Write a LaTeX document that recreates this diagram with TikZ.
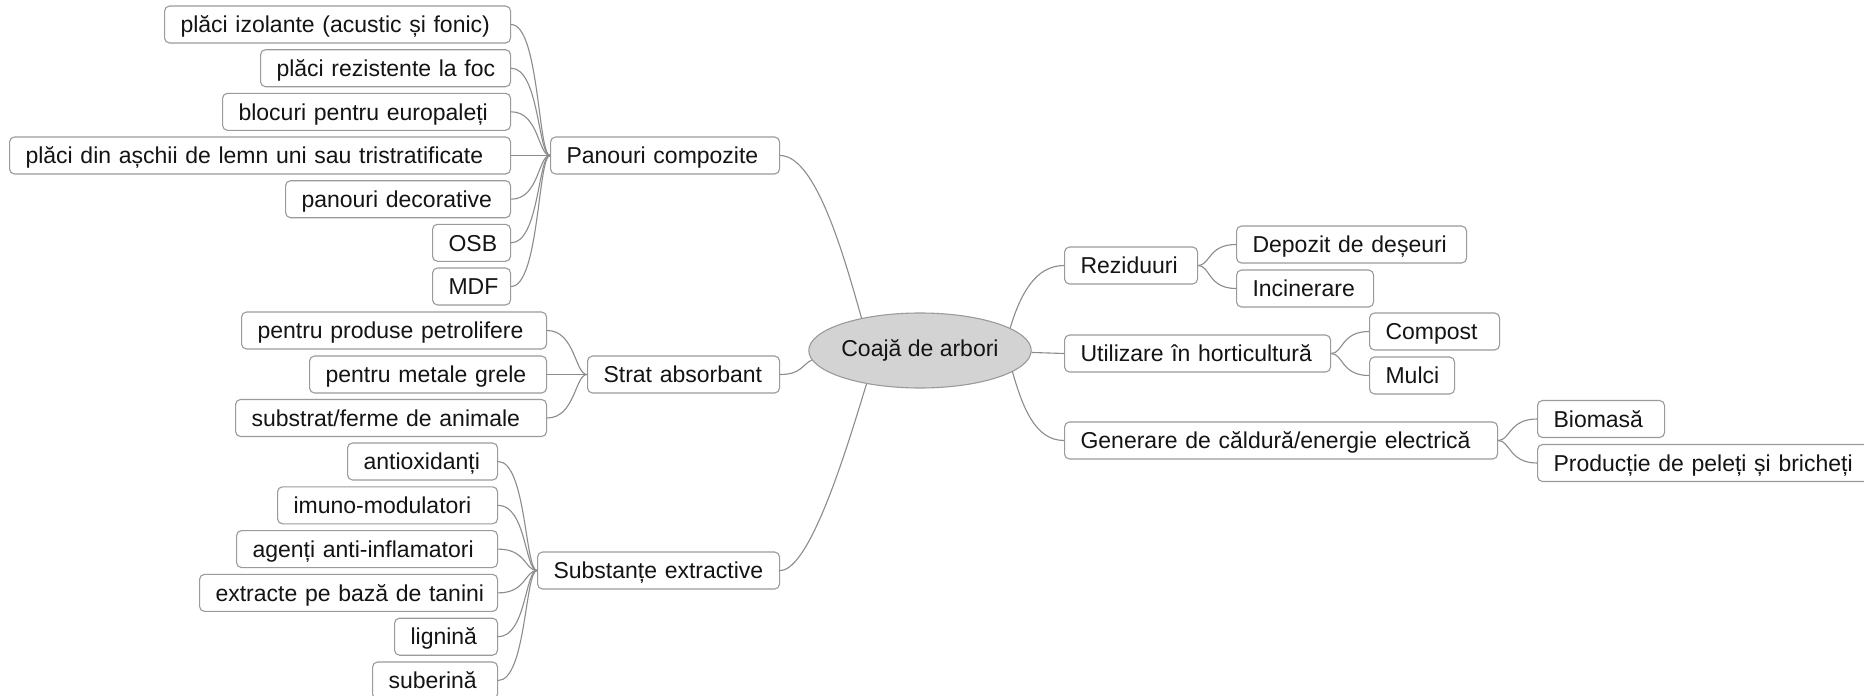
\documentclass[tikz,border=0pt]{standalone}
\usepackage{fontspec}
\setmainfont{Liberation Sans}
\usetikzlibrary{shapes.geometric}
\definecolor{boxgray}{HTML}{9A9A9A}
\definecolor{linegray}{HTML}{8C8C8C}
\definecolor{rootfill}{HTML}{D3D3D3}
\definecolor{txt}{HTML}{141414}
\begin{document}
\begin{tikzpicture}[x=1pt,y=-1pt,
  box/.style={draw=boxgray, line width=1.1pt, rounded corners=5pt, fill=white,
    anchor=west, inner xsep=16pt, inner ysep=0pt, minimum height=37pt,
    text height=16.5pt, text depth=0pt, align=left,
    font=\fontsize{23}{27}\selectfont, text=txt},
  rootnode/.style={ellipse, draw=boxgray, fill=rootfill, line width=1.1pt,
    minimum width=204pt, minimum height=75pt, inner sep=0pt,
    font=\fontsize{23}{27}\selectfont, text=txt},
  conn/.style={draw=linegray, line width=1.1pt}]
\useasboundingbox (0,0) rectangle (1864,696);
\fill[white] (0,0) rectangle (1864,696);

% root
\node[rootnode] (root) at (920,350.5) {Coajă de arbori};

% Panouri compozite group
\node[box, text width=197pt] (pc) at (550,155.5) {\mbox{Panouri compozite}};
\node[box, text width=314pt] (izol) at (164,24.5) {\mbox{plăci izolante (acustic și fonic)}};
\node[box, text width=218pt] (rfoc) at (260,68.2) {\mbox{plăci rezistente la foc}};
\node[box, text width=256pt] (bloc) at (222,111.8) {\mbox{blocuri pentru europaleți}};
\node[box, text width=469pt] (aschii) at (9,155.5) {\mbox{plăci din așchii de lemn uni sau tristratificate}};
\node[box, text width=193pt] (decor) at (285,199.2) {\mbox{panouri decorative}};
\node[box, text width=46pt] (osb) at (432,242.8) {\mbox{OSB}};
\node[box, text width=46pt] (mdf) at (432,286.5) {\mbox{MDF}};

% Strat absorbant group
\node[box, text width=160pt] (sa) at (587,374.5) {\mbox{Strat absorbant}};
\node[box, text width=273pt] (petro) at (241,330.5) {\mbox{pentru produse petrolifere}};
\node[box, text width=205pt] (metale) at (309,374.5) {\mbox{pentru metale grele}};
\node[box, text width=279pt] (substr) at (235,418) {\mbox{substrat/ferme de animale}};

% Substante extractive group
\node[box, text width=210pt] (se) at (537,570.5) {\mbox{Substanțe extractive}};
\node[box, text width=118pt] (antiox) at (347,461.5) {\mbox{antioxidanți}};
\node[box, text width=188pt] (imuno) at (277,505.3) {\mbox{imuno-modulatori}};
\node[box, text width=229pt] (agenti) at (236,549.1) {\mbox{agenți anti-inflamatori}};
\node[box, text width=266pt] (extr) at (199,592.9) {\mbox{extracte pe bază de tanini}};
\node[box, text width=71pt] (lign) at (394,636.7) {\mbox{lignină}};
\node[box, text width=93pt] (suber) at (372,680.5) {\mbox{suberină}};

% right side
\node[box, text width=101pt] (rez) at (1064,265.5) {\mbox{Reziduuri}};
\node[box, text width=198pt] (dep) at (1236,244.5) {\mbox{Depozit de deșeuri}};
\node[box, text width=105pt] (inc) at (1236,288.5) {\mbox{Incinerare}};
\node[box, text width=234pt] (util) at (1064,353.5) {\mbox{Utilizare în horticultură}};
\node[box, text width=98pt] (comp) at (1369,331.5) {\mbox{Compost}};
\node[box, text width=53pt] (mulci) at (1369,375.5) {\mbox{Mulci}};
\node[box, text width=401pt] (gen) at (1064,440.5) {\mbox{Generare de căldură/energie electrică}};
\node[box, text width=95pt] (bio) at (1537,419) {\mbox{Biomasă}};
\node[box, text width=301pt] (prod) at (1537,463) {\mbox{Producție de peleți și bricheți}};

% connectors: left leaves
\foreach \c in {izol,rfoc,bloc,aschii,decor,osb,mdf}
  \draw[conn] (\c.east) .. controls +(28,0) and +(-12,0) .. (pc.west);
\foreach \c in {petro,metale,substr}
  \draw[conn] (\c.east) .. controls +(28,0) and +(-12,0) .. (sa.west);
\foreach \c in {antiox,imuno,agenti,extr,lign,suber}
  \draw[conn] (\c.east) .. controls +(28,0) and +(-12,0) .. (se.west);

% connectors: right leaves
\foreach \c in {dep,inc}
  \draw[conn] (rez.east) .. controls +(12,0) and +(-28,0) .. (\c.west);
\foreach \c in {comp,mulci}
  \draw[conn] (util.east) .. controls +(12,0) and +(-28,0) .. (\c.west);
\foreach \c in {bio,prod}
  \draw[conn] (gen.east) .. controls +(12,0) and +(-28,0) .. (\c.west);

% main branches
\draw[conn] (pc.east) .. controls +(36,0) and +(-17,-60) .. (root.151);
\draw[conn] (sa.east) .. controls +(21,0) and +(-10,5) .. (root.185);
\draw[conn] (se.east) .. controls +(31,0) and +(-17,55) .. (root.212);
\draw[conn] (root.14.6) .. controls +(10,-33) and +(-29,0) .. (rez.west);
\draw[conn] (root.-1.5) -- (util.west);
\draw[conn] (root.-13.3) .. controls +(10,35) and +(-29,0) .. (gen.west);
\end{tikzpicture}
\end{document}
